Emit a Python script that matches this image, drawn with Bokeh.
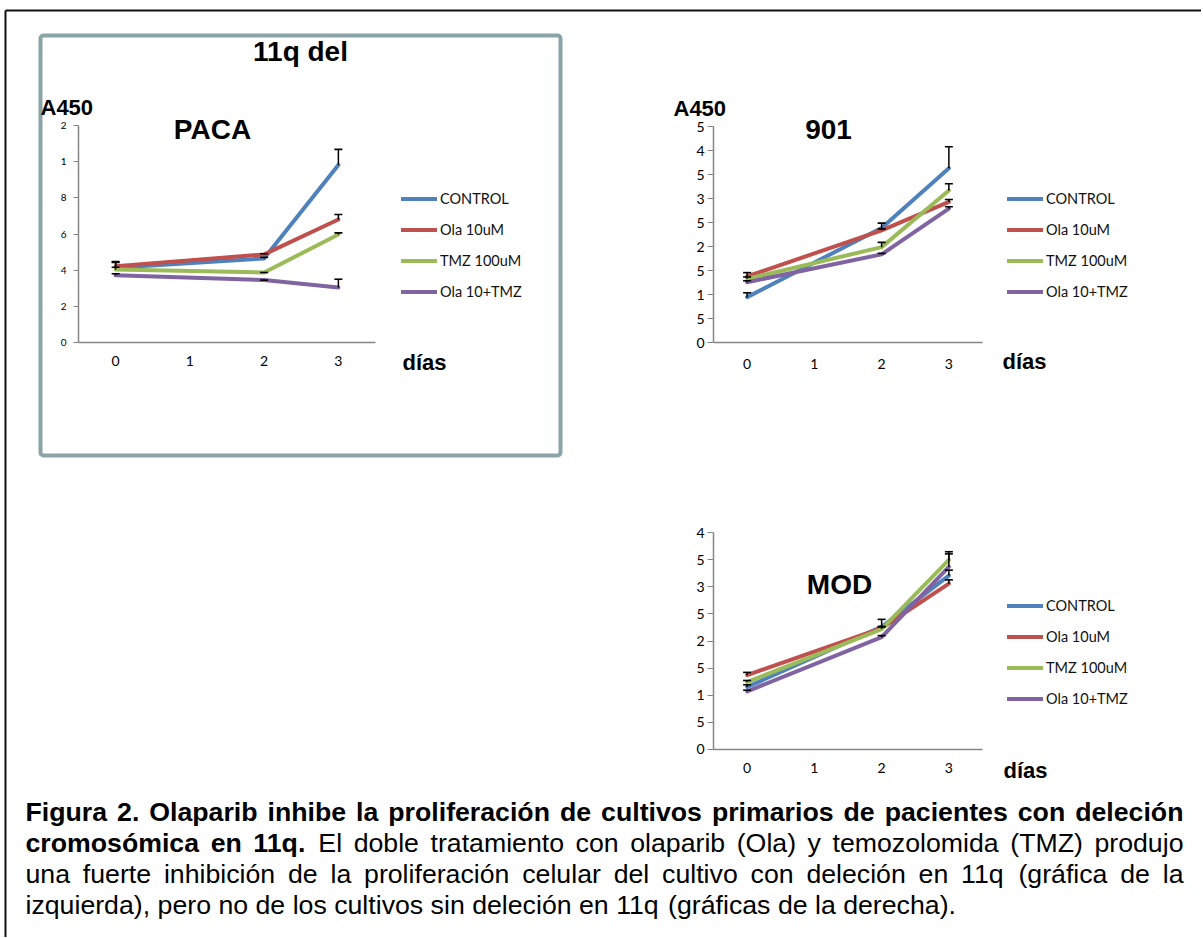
from bokeh.plotting import figure
from bokeh.models import (Range1d, FixedTicker, LinearAxis, Legend, LegendItem, ColumnDataSource)
from bokeh.embed import file_html
from bokeh.resources import INLINE
from bokeh.core.properties import value

# ---------------- data ----------------
day_ticks = [0, 1, 2, 3]
measured_days = [0, 2, 3]
series_names = ["CONTROL", "Ola 10uM", "TMZ 100uM", "Ola 10+TMZ"]
series_colors = ["#4F81BD", "#C0504D", "#9BBB59", "#8064A2"]

paca_control = [0.413, 0.465, 0.981]
paca_ola = [0.422, 0.487, 0.680]
paca_tmz = [0.404, 0.387, 0.597]
paca_ola_tmz = [0.372, 0.345, 0.304]
paca_err_control = [0.030, 0.006, 0.087]
paca_err_ola = [0.025, 0.004, 0.028]
paca_err_tmz = [0.012, 0.0, 0.009]
paca_err_ola_tmz = [0.008, 0.0, 0.046]

c901_control = [0.095, 0.239, 0.363]
c901_ola = [0.138, 0.234, 0.293]
c901_tmz = [0.133, 0.199, 0.317]
c901_ola_tmz = [0.126, 0.184, 0.279]
c901_err_control = [0.009, 0.010, 0.045]
c901_err_ola = [0.008, 0.003, 0.005]
c901_err_tmz = [0.004, 0.010, 0.014]
c901_err_ola_tmz = [0.003, 0.002, 0.004]

mod_control = [0.115, 0.226, 0.321]
mod_ola = [0.137, 0.224, 0.306]
mod_tmz = [0.124, 0.222, 0.350]
mod_ola_tmz = [0.107, 0.207, 0.337]
mod_err_control = [0.004, 0.014, 0.010]
mod_err_ola = [0.005, 0.003, 0.007]
mod_err_tmz = [0.003, 0.004, 0.015]
mod_err_ola_tmz = [0.002, 0.003, 0.024]

paca_yticks = [0, 0.2, 0.4, 0.6, 0.8, 1.0, 1.2]
paca_ylabels = ["0", "2", "4", "6", "8", "1", "2"]
c901_yticks = [0, 0.05, 0.1, 0.15, 0.2, 0.25, 0.3, 0.35, 0.4, 0.45]
c901_ylabels = ["0", "5", "1", "5", "2", "5", "3", "5", "4", "5"]
mod_yticks = [0, 0.05, 0.1, 0.15, 0.2, 0.25, 0.3, 0.35, 0.4]
mod_ylabels = ["0", "5", "1", "5", "2", "5", "3", "5", "4"]

caption_lines = [
    [("Figura 2. Olaparib inhibe la proliferación de cultivos primarios de pacientes con deleción", True)],
    [("cromosómica en 11q.", True),
     ("El doble tratamiento con olaparib (Ola) y temozolomida (TMZ) produjo", False)],
    [("una fuerte inhibición de la proliferación celular del cultivo con deleción en 11q (gráfica de la", False)],
    [("izquierda), pero no de los cultivos sin deleción en 11q (gráficas de la derecha).", False)],
]

# ---------------- page canvas (1 data unit = 1 px, y downwards) ----------------
W, H = 1201, 937
AXIS_GRAY = "#868686"
HEAD_FONT = "Liberation Sans"
TICK_FONT = "Lato"

p = figure(width=W, height=H, x_range=Range1d(0, W), y_range=Range1d(H, 0), title=None,
           x_axis_location=None, y_axis_location=None, min_border=0,
           outline_line_color=None, toolbar_location=None, output_backend="svg",
           background_fill_color="white", border_fill_color="white")
p.grid.visible = False

# frame decorations
p.segment(x0=[5, 5], y0=[10, 10], x1=[W, 5], y1=[10, H], line_color="#111111", line_width=2)
p.quad(left=[40], right=[560], top=[35], bottom=[455], fill_color=None,
       line_color="#8AA4A7", line_width=4, border_radius=3)

# ---------------- chart panels ----------------
# geometry in page px: y-axis x position, category width, y of value 0, px per unit
panels = {
    "paca": dict(ax_left=78, cw=297 / 4, zero=342.0, ppu=217.0 / 1.2),
    "c901": dict(ax_left=713, cw=269 / 4, zero=342.3, ppu=216.3 / 0.45),
    "mod": dict(ax_left=713, cw=269 / 4, zero=748.7, ppu=216.4 / 0.4),
}
xr, yr = {}, {}
for name, g in panels.items():
    xr[name + "_x"] = Range1d((0 - g["ax_left"]) / g["cw"] - 0.5, (W - g["ax_left"]) / g["cw"] - 0.5)
    yr[name + "_y"] = Range1d((g["zero"] - H) / g["ppu"], g["zero"] / g["ppu"])
p.extra_x_ranges = xr
p.extra_y_ranges = yr


def style_axis(ax, size, standoff, tick_out):
    ax.axis_line_color = AXIS_GRAY
    ax.axis_line_width = 1.5
    ax.major_tick_line_color = AXIS_GRAY if tick_out else None
    ax.major_tick_line_width = 1.2
    ax.major_tick_out = tick_out
    ax.major_tick_in = 0
    ax.minor_tick_line_color = None
    ax.major_label_standoff = standoff
    ax.major_label_text_font = TICK_FONT
    ax.major_label_text_font_size = size
    ax.major_label_text_color = "black"


def chart(name, ymax, yticks, ylabels, ylab_size, ylab_standoff, ytick_out, xlab_standoff,
          values, errors, legend_left, legend_top):
    rx, ry = name + "_x", name + "_y"
    yax = LinearAxis(x_range_name=rx, y_range_name=ry, fixed_location=-0.5, bounds=(0, ymax),
                     ticker=FixedTicker(ticks=yticks), major_label_overrides=dict(zip(yticks, ylabels)))
    style_axis(yax, ylab_size, ylab_standoff, ytick_out)
    p.add_layout(yax, "left")
    xax = LinearAxis(x_range_name=rx, y_range_name=ry, fixed_location=0, bounds=(-0.5, 3.5),
                     ticker=FixedTicker(ticks=day_ticks))
    style_axis(xax, "14px", xlab_standoff, 0)
    p.add_layout(xax, "below")

    rends = []
    for color, vals in zip(series_colors, values):
        rends.append(p.line(x=measured_days, y=vals, x_range_name=rx, y_range_name=ry,
                            line_color=color, line_width=4, line_cap="round", line_join="round"))
    for vals, errs in zip(values, errors):
        tops = [v + e for v, e in zip(vals, errs)]
        p.segment(x0=measured_days, y0=vals, x1=measured_days, y1=tops, x_range_name=rx,
                  y_range_name=ry, line_color="black", line_width=1.5)
        p.scatter(x=measured_days, y=tops, x_range_name=rx, y_range_name=ry, marker="dash",
                  size=8, line_color="black", line_width=1.6)

    leg = Legend(items=[LegendItem(label=n, renderers=[r]) for n, r in zip(series_names, rends)],
                 location=(legend_left, H - (legend_top + 3 * 31 + 21)))
    leg.border_line_color = None
    leg.background_fill_alpha = 0
    leg.padding = 0
    leg.margin = 0
    leg.spacing = 10
    leg.glyph_width = 36
    leg.glyph_height = 21
    leg.label_height = 21
    leg.label_standoff = 3
    leg.label_text_font = TICK_FONT
    leg.label_text_font_size = "14.5px"
    leg.label_text_color = "#111111"
    p.add_layout(leg)


chart("paca", 1.2, paca_yticks, paca_ylabels, "10px", 7, 5, 13,
      [paca_control, paca_ola, paca_tmz, paca_ola_tmz],
      [paca_err_control, paca_err_ola, paca_err_tmz, paca_err_ola_tmz], 401, 187.5)
chart("c901", 0.45, c901_yticks, c901_ylabels, "14px", 3, 6, 16,
      [c901_control, c901_ola, c901_tmz, c901_ola_tmz],
      [c901_err_control, c901_err_ola, c901_err_tmz, c901_err_ola_tmz], 1007, 187.5)
chart("mod", 0.4, mod_yticks, mod_ylabels, "14px", 3, 6, 14,
      [mod_control, mod_ola, mod_tmz, mod_ola_tmz],
      [mod_err_control, mod_err_ola, mod_err_tmz, mod_err_ola_tmz], 1007, 594.5)

# ---------------- headings ----------------
big = ColumnDataSource(dict(x=[300, 212, 828, 839], y=[51, 129, 129, 584],
                            t=["11q del", "PACA", "901", "MOD"]))
p.text(x="x", y="y", text="t", source=big, text_font=value(HEAD_FONT), text_font_style="bold",
       text_font_size="28px", text_align="center", text_baseline="alphabetic", text_color="black")
small = ColumnDataSource(dict(x=[40, 673, 402, 1002, 1003], y=[106.5, 107.5, 362, 361, 770],
                              t=["A450", "A450", "días", "días", "días"]))
p.text(x="x", y="y", text="t", source=small, text_font=value(HEAD_FONT), text_font_style="bold",
       text_font_size="22px", text_align="left", text_baseline="alphabetic", text_color="black")

# ---------------- caption (justified with Arial/Liberation metrics) ----------------
REG = dict(a=556, b=556, c=500, d=556, e=556, f=278, g=556, h=556, i=222, j=222, k=500, l=222,
           m=833, n=556, o=556, p=556, q=556, r=333, s=500, t=278, u=556, v=500, w=722, x=500,
           y=500, z=500, E=667, F=611, M=833, O=778, T=611, Z=611)
REG.update({"á": 556, "é": 556, "í": 278, "ó": 556, ".": 278, ",": 278, "(": 333, ")": 333, " ": 278})
BLD = dict(a=556, b=611, c=556, d=611, e=556, f=333, g=611, h=611, i=278, j=278, k=556, l=278,
           m=889, n=611, o=611, p=611, q=611, r=389, s=556, t=333, u=611, v=556, w=778, x=556,
           y=556, z=500, E=667, F=611, M=833, O=778, T=611, Z=611)
BLD.update({"á": 556, "é": 556, "í": 278, "ó": 611, ".": 278, ",": 278, "(": 333, ")": 333, " ": 278})

CAP_FS = 26.7
CAP_LEFT, CAP_RIGHT = 25, 1183
baselines = [811, 842, 873, 904]


def wwidth(word, bold):
    table = BLD if bold else REG
    return sum(table.get(ch, 556) for ch in word) * CAP_FS / 1000.0


bold_src = dict(x=[], y=[], t=[])
reg_src = dict(x=[], y=[], t=[])
for li, segs in enumerate(caption_lines):
    words = []
    for txt, b in segs:
        words += [(w, b) for w in txt.split(" ")]
    widths = [wwidth(w, b) for w, b in words]
    if li < len(caption_lines) - 1:
        gap = (CAP_RIGHT - CAP_LEFT - sum(widths)) / (len(words) - 1)
    else:
        gap = 278 * CAP_FS / 1000.0
    x = CAP_LEFT
    for (w, b), wd in zip(words, widths):
        src = bold_src if b else reg_src
        src["x"].append(x)
        src["y"].append(baselines[li])
        src["t"].append(w)
        x += wd + gap

for src, style in ((bold_src, "bold"), (reg_src, "normal")):
    p.text(x="x", y="y", text="t", source=ColumnDataSource(src), text_font=value(HEAD_FONT),
           text_font_style=style, text_font_size=f"{CAP_FS}px", text_baseline="alphabetic",
           text_align="left", text_color="black")

open("out.html", "w").write(file_html(p, INLINE, title="Figura 2"))
